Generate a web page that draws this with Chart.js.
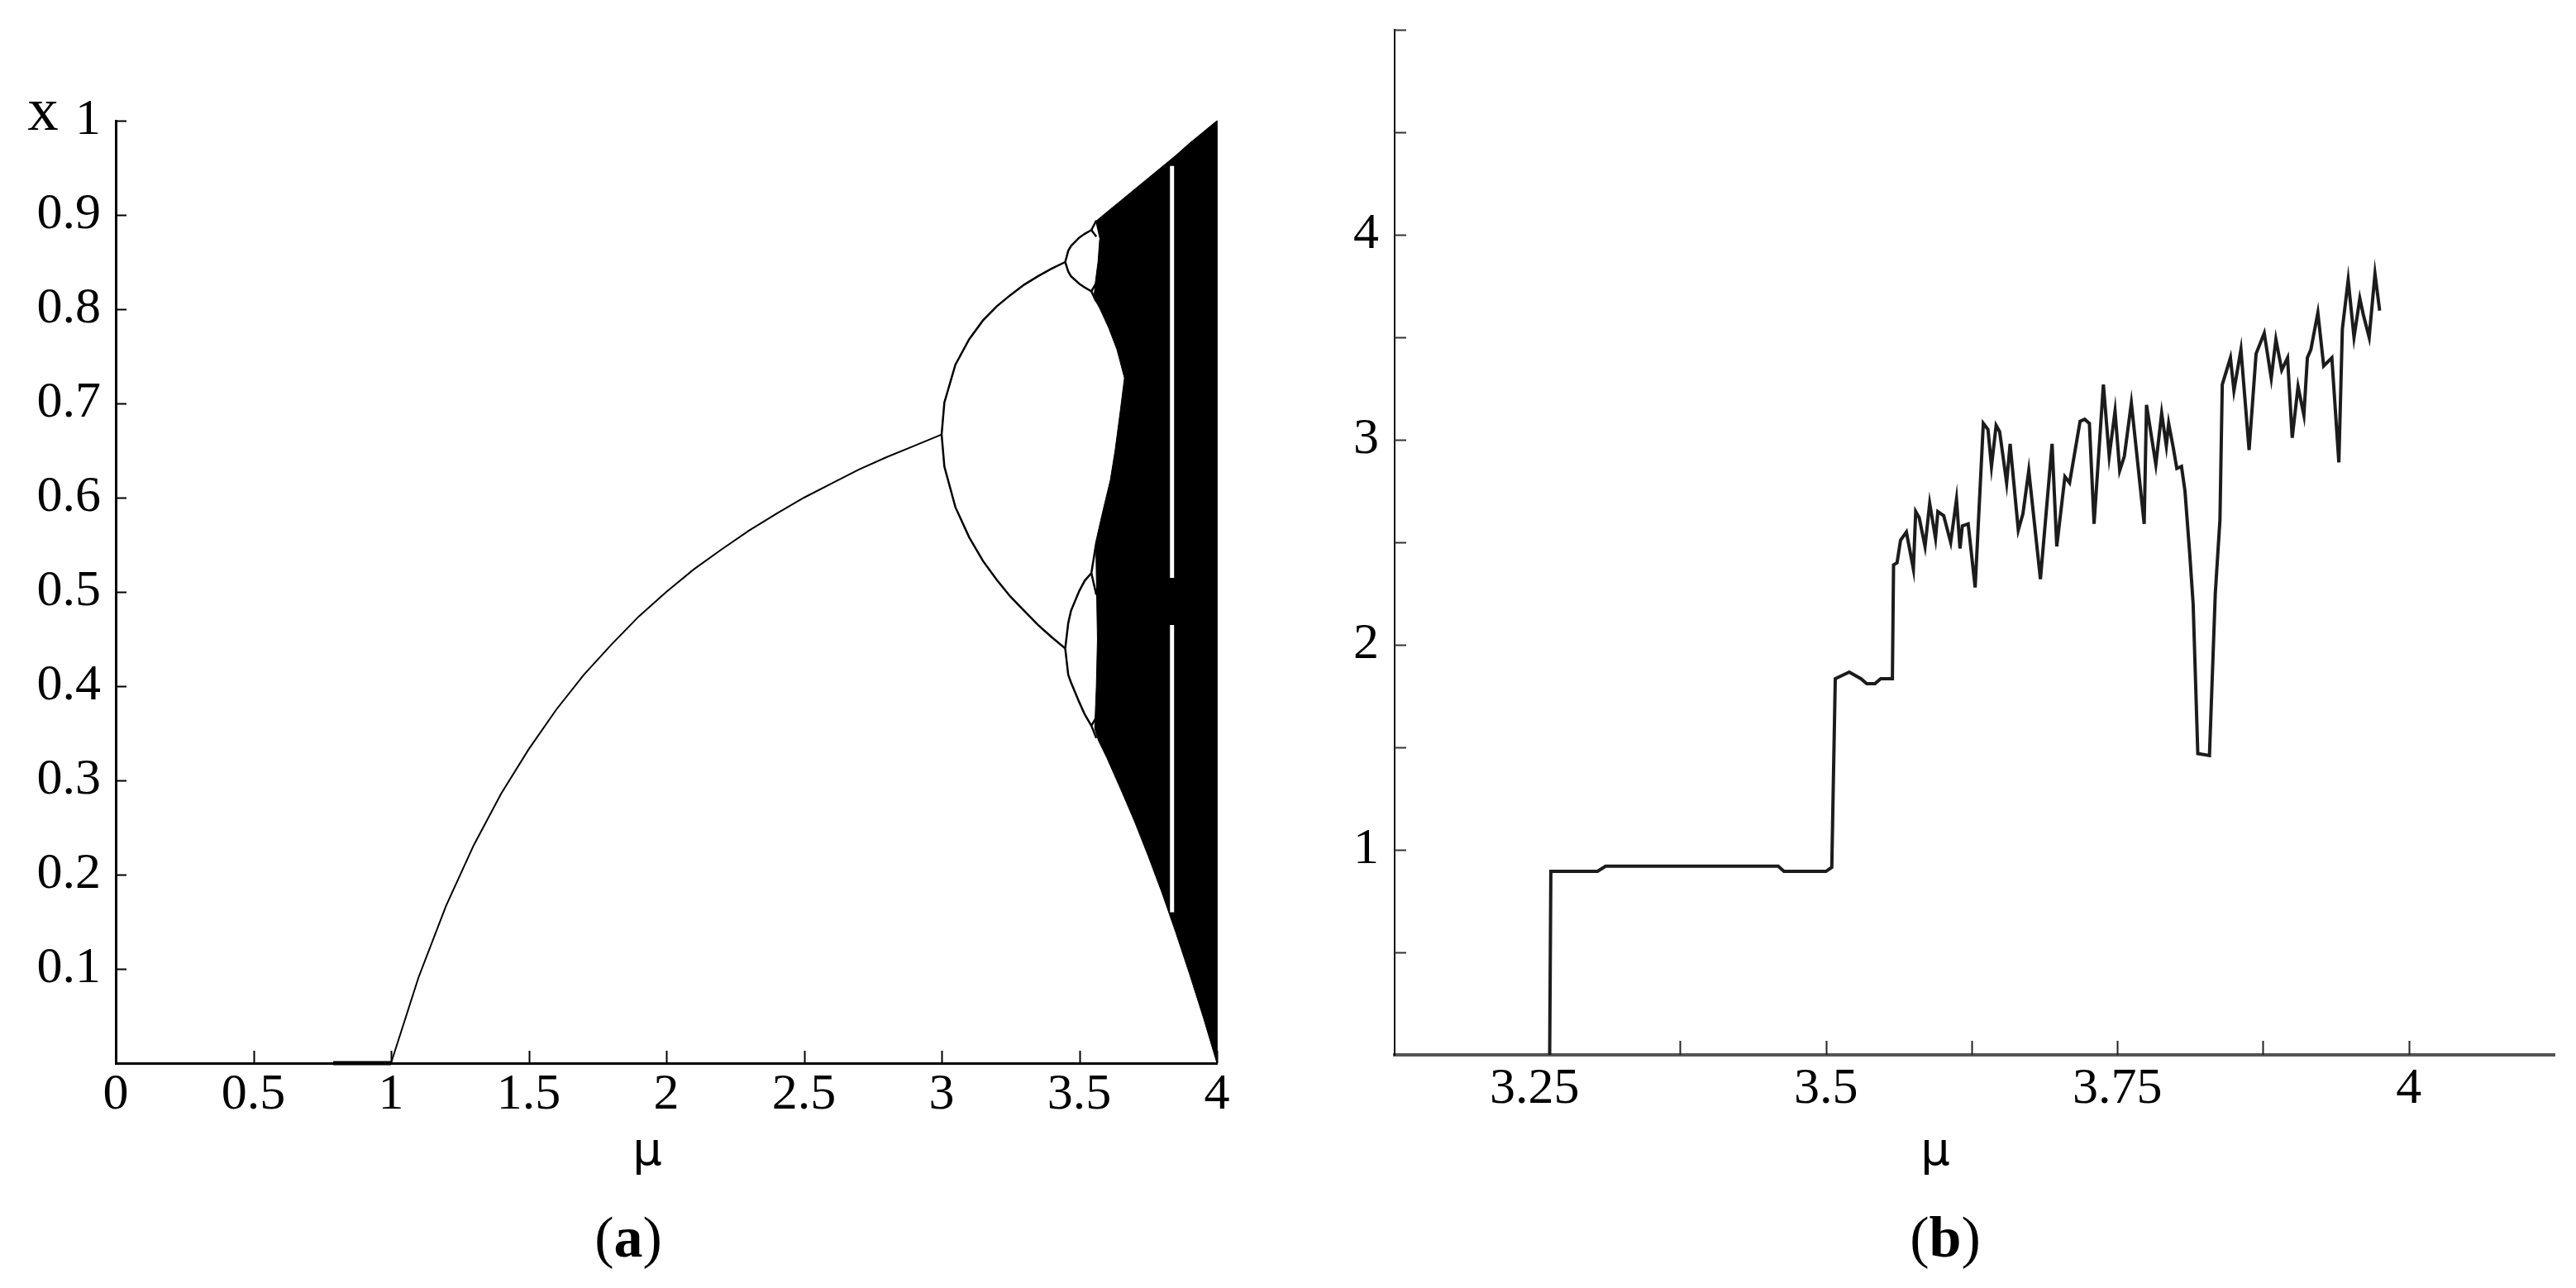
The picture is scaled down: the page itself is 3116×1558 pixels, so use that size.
<!DOCTYPE html>
<html>
<head>
<meta charset="utf-8">
<script src="https://cdn.jsdelivr.net/npm/chart.js@4.4.1/dist/chart.umd.min.js"></script>
<style>
  html, body { margin: 0; padding: 0; background: #fff; }
  #page { position: relative; width: 3116px; height: 1558px; background: #fff; overflow: hidden; }
  canvas { position: absolute; top: 0; }
  .lbl { position: absolute; line-height: 1; white-space: nowrap; color: #000; transform: translateX(-50%); }
  .serif { font-family: "Liberation Serif", "Times New Roman", serif; }
  .sans { font-family: "DejaVu Sans", sans-serif; }
</style>
</head>
<body>
<div id="page">
  <canvas id="chartA" width="1560" height="1558" style="left:0px;width:1560px;height:1558px"></canvas>
  <canvas id="chartB" width="1556" height="1558" style="left:1560px;width:1556px;height:1558px"></canvas>
  <div class="lbl serif" style="left:52px;top:94px;font-size:75px;">x</div>
  <div class="lbl sans" style="left:783px;top:1362px;font-size:56px;">μ</div>
  <div class="lbl serif" style="left:760px;top:1462px;font-size:70px;">(<b>a</b>)</div>
  <div class="lbl sans" style="left:2341px;top:1362px;font-size:56px;">μ</div>
  <div class="lbl serif" style="left:2353px;top:1462px;font-size:70px;">(<b>b</b>)</div>
</div>
<script>
// ---------------- Panel (a): bifurcation diagram ----------------
const xTicksA = [0, 0.5, 1, 1.5, 2, 2.5, 3, 3.5, 4];
const yTicksA = [0, 0.1, 0.2, 0.3, 0.4, 0.5, 0.6, 0.7, 0.8, 0.9, 1];

const muA_zero = [0.79, 1.0];
const xA_zero = [0, 0];

const muA_p1 = [1.0, 1.1, 1.2, 1.3, 1.4, 1.5, 1.6, 1.7, 1.8, 1.9, 2.0, 2.1, 2.2, 2.3, 2.4, 2.5, 2.6, 2.7, 2.8, 2.9, 3.0];
const xA_p1 = [0, 0.091, 0.167, 0.231, 0.286, 0.333, 0.375, 0.412, 0.444, 0.474, 0.5, 0.524, 0.545, 0.565, 0.583, 0.6, 0.615, 0.63, 0.643, 0.655, 0.667];

const muA_p2 = [3.0, 3.01, 3.05, 3.1, 3.15, 3.2, 3.25, 3.3, 3.35, 3.4, 3.449];
const xA_p2Upper = [0.667, 0.701, 0.741, 0.768, 0.788, 0.803, 0.815, 0.826, 0.835, 0.843, 0.850];
const xA_p2Lower = [0.667, 0.633, 0.590, 0.558, 0.533, 0.513, 0.495, 0.480, 0.465, 0.452, 0.440];

const muA_p4 = [3.449, 3.46, 3.47, 3.5, 3.52, 3.544];
const xA_p4a = [0.850, 0.862, 0.867, 0.876, 0.880, 0.884];
const xA_p4b = [0.850, 0.840, 0.835, 0.827, 0.823, 0.819];
const xA_p4c = [0.440, 0.467, 0.480, 0.501, 0.512, 0.520];
const xA_p4d = [0.440, 0.412, 0.404, 0.383, 0.370, 0.358];

const muA_p8 = [3.544, 3.562];
const xA_p8 = [
  [0.884, 0.894], [0.884, 0.877],
  [0.819, 0.828], [0.819, 0.808],
  [0.520, 0.553], [0.520, 0.497],
  [0.358, 0.367], [0.358, 0.345]
];

// chaotic band outline (closed shape)
const muA_chaos = [3.559, 3.6, 3.65, 3.7, 3.75, 3.8, 3.85, 3.9, 3.95, 4.0,
                   4.0, 3.95, 3.9, 3.85, 3.8, 3.75, 3.7, 3.65, 3.6, 3.57, 3.556,
                   3.562, 3.566, 3.563, 3.56, 3.585, 3.613, 3.63, 3.649, 3.664,
                   3.637, 3.607, 3.574, 3.553, 3.559, 3.568, 3.574];
const xA_chaos = [0.893, 0.903, 0.915, 0.927, 0.939, 0.951, 0.963, 0.976, 0.988, 1.0,
                  0.0, 0.049, 0.095, 0.139, 0.181, 0.220, 0.257, 0.291, 0.324, 0.342, 0.355,
                  0.40, 0.45, 0.50, 0.553, 0.585, 0.619, 0.650, 0.692, 0.727,
                  0.757, 0.780, 0.801, 0.812, 0.830, 0.850, 0.874];

// period-3 window (white gap)
const muA_window = [3.837, 3.837];
const xA_windowUpper = [0.515, 0.952];
const xA_windowLower = [0.16, 0.465];

// ---------------- Panel (b) ----------------
const xTicksB = [3.25, 3.375, 3.5, 3.625, 3.75, 3.875, 4];
const xLabelsB = [3.25, 3.5, 3.75, 4];
const yTicksB = [0, 0.5, 1, 1.5, 2, 2.5, 3, 3.5, 4, 4.5, 5];
const yLabelsB = [1, 2, 3, 4];

const muB = [3.263,3.264,3.304,3.311,3.459,3.464,3.500,3.505,3.508,3.520,3.530,3.535,3.542,3.547,3.557,3.558,3.561,3.564,3.569,3.575,3.577,3.580,3.585,3.589,3.594,3.596,3.601,3.607,3.612,3.615,3.617,3.622,3.628,3.635,3.639,3.642,3.646,3.649,3.655,3.658,3.665,3.669,3.674,3.684,3.694,3.698,3.705,3.709,3.718,3.722,3.726,3.730,3.738,3.743,3.748,3.752,3.756,3.762,3.773,3.775,3.783,3.788,3.792,3.794,3.798,3.801,3.805,3.808,3.812,3.815,3.819,3.829,3.834,3.838,3.840,3.847,3.850,3.856,3.863,3.869,3.876,3.882,3.886,3.891,3.896,3.900,3.905,3.910,3.913,3.916,3.922,3.927,3.934,3.940,3.943,3.948,3.953,3.958,3.961,3.966,3.971,3.975];
const valB = [0,0.895,0.895,0.920,0.920,0.895,0.895,0.915,1.835,1.867,1.835,1.810,1.810,1.835,1.835,2.390,2.400,2.510,2.550,2.370,2.650,2.620,2.480,2.690,2.520,2.650,2.630,2.500,2.710,2.470,2.580,2.590,2.280,3.080,3.050,2.870,3.070,3.040,2.790,2.980,2.560,2.640,2.850,2.320,2.980,2.480,2.820,2.790,3.090,3.100,3.080,2.590,3.270,2.920,3.140,2.850,2.920,3.180,2.590,3.170,2.880,3.130,2.970,3.080,2.960,2.860,2.870,2.750,2.450,2.200,1.470,1.460,2.250,2.610,3.270,3.400,3.240,3.440,2.950,3.420,3.520,3.300,3.490,3.340,3.400,3.010,3.260,3.120,3.400,3.440,3.620,3.360,3.400,2.890,3.540,3.780,3.500,3.690,3.610,3.500,3.810,3.630];

// ---------------- helpers ----------------
const zip = (xs, ys) => xs.map((v, i) => ({ x: v, y: ys[i] }));
const FONT = "Liberation Serif";

const inwardTicks = {
  id: 'inwardTicks',
  afterDatasetsDraw(chart, args, o) {
    const { ctx, chartArea } = chart;
    const xs = chart.scales.x, ys = chart.scales.y;
    ctx.save();
    ctx.lineCap = 'butt';
    ctx.strokeStyle = o.xColor; ctx.lineWidth = o.xWidth;
    o.xTicks.forEach(v => {
      const px = Math.round(xs.getPixelForValue(v)) + 0.5;
      ctx.beginPath(); ctx.moveTo(px, chartArea.bottom); ctx.lineTo(px, chartArea.bottom - o.xLen); ctx.stroke();
    });
    ctx.strokeStyle = o.yColor; ctx.lineWidth = o.yWidth;
    o.yTicks.forEach(v => {
      const py = Math.round(ys.getPixelForValue(v)) + 0.5;
      ctx.beginPath(); ctx.moveTo(chartArea.left, py); ctx.lineTo(chartArea.left + o.yLen, py); ctx.stroke();
    });
    ctx.restore();
  }
};

const noPad = s => { s.paddingTop = 0; s.paddingBottom = 0; s.paddingLeft = 0; s.paddingRight = 0; };

const lineDs = (data, color, width, order, extra) => Object.assign({
  data, showLine: true, borderColor: color, borderWidth: width, pointRadius: 0,
  fill: false, tension: 0, order, clip: false
}, extra || {});

// ---------------- Chart (a) ----------------
const dsA = [];
dsA.push(lineDs(zip(muA_chaos, xA_chaos), '#000', 1, 5, { fill: 'shape', backgroundColor: '#000' }));
dsA.push(lineDs(zip(muA_window, xA_windowUpper), '#fff', 5, 4));
dsA.push(lineDs(zip(muA_window, xA_windowLower), '#fff', 5, 4));
dsA.push(lineDs(zip(muA_zero, xA_zero), '#000', 5, 1));
dsA.push(lineDs(zip(muA_p1, xA_p1), '#000', 2, 1));
dsA.push(lineDs(zip(muA_p2, xA_p2Upper), '#000', 2.5, 1));
dsA.push(lineDs(zip(muA_p2, xA_p2Lower), '#000', 2.5, 1));
[xA_p4a, xA_p4b, xA_p4c, xA_p4d].forEach(arr => dsA.push(lineDs(zip(muA_p4, arr), '#000', 2.5, 1)));
xA_p8.forEach(arr => dsA.push(lineDs(zip(muA_p8, arr), '#000', 2.5, 1)));

new Chart(document.getElementById('chartA'), {
  type: 'scatter',
  data: { datasets: dsA },
  plugins: [inwardTicks],
  options: {
    responsive: false, animation: false, events: [],
    layout: { padding: { left: 0, top: 146, right: 88, bottom: 0 } },
    plugins: {
      legend: { display: false }, tooltip: { enabled: false },
      inwardTicks: { xTicks: xTicksA.slice(1), yTicks: yTicksA.slice(1), xLen: 15, yLen: 13,
        xColor: '#000', yColor: '#000', xWidth: 2, yWidth: 2 }
    },
    scales: {
      x: {
        type: 'linear', min: 0, max: 4,
        afterBuildTicks: s => { s.ticks = xTicksA.map(v => ({ value: v })); },
        afterFit: s => { s.height = 1558 - 1286; noPad(s); },
        grid: { display: false, drawTicks: false, tickLength: 0 },
        border: { display: true, color: '#000', width: 3 },
        ticks: { autoSkip: false, maxRotation: 0, padding: 2, color: '#000',
          font: { family: FONT, size: 62 }, callback: v => String(v) }
      },
      y: {
        type: 'linear', min: 0, max: 1,
        afterBuildTicks: s => { s.ticks = yTicksA.map(v => ({ value: v })); },
        afterFit: s => { s.width = 140; noPad(s); },
        grid: { display: false, drawTicks: false, tickLength: 0 },
        border: { display: true, color: '#000', width: 3 },
        ticks: { autoSkip: false, padding: 18, color: '#000',
          font: { family: FONT, size: 62 }, callback: v => (v === 0 ? '' : String(v)) }
      }
    }
  }
});

// ---------------- Chart (b) ----------------
new Chart(document.getElementById('chartB'), {
  type: 'scatter',
  data: { datasets: [ lineDs(zip(muB, valB), '#1c1c1c', 4, 1) ] },
  plugins: [inwardTicks],
  options: {
    responsive: false, animation: false, events: [],
    layout: { padding: { left: 0, top: 36, right: 26, bottom: 0 } },
    plugins: {
      legend: { display: false }, tooltip: { enabled: false },
      inwardTicks: { xTicks: xTicksB.slice(1), yTicks: yTicksB.slice(1), xLen: 17, yLen: 14,
        xColor: '#222', yColor: '#333', xWidth: 2, yWidth: 2 }
    },
    scales: {
      x: {
        type: 'linear', min: 3.13, max: 4.125,
        afterBuildTicks: s => { s.ticks = xTicksB.map(v => ({ value: v })); },
        afterFit: s => { s.height = 1558 - 1276; noPad(s); },
        grid: { display: false, drawTicks: false, tickLength: 0 },
        border: { display: true, color: '#555', width: 4 },
        ticks: { autoSkip: false, maxRotation: 0, padding: 5, color: '#000',
          font: { family: FONT, size: 62 },
          callback: v => (xLabelsB.includes(v) ? String(v) : '') }
      },
      y: {
        type: 'linear', min: 0, max: 5,
        afterBuildTicks: s => { s.ticks = yTicksB.map(v => ({ value: v })); },
        afterFit: s => { s.width = 127; noPad(s); },
        grid: { display: false, drawTicks: false, tickLength: 0 },
        border: { display: true, color: '#111', width: 2 },
        ticks: { autoSkip: false, padding: 19, color: '#000',
          font: { family: FONT, size: 62 },
          callback: v => (yLabelsB.includes(v) ? String(v) : '') }
      }
    }
  }
});
</script>
</body>
</html>
